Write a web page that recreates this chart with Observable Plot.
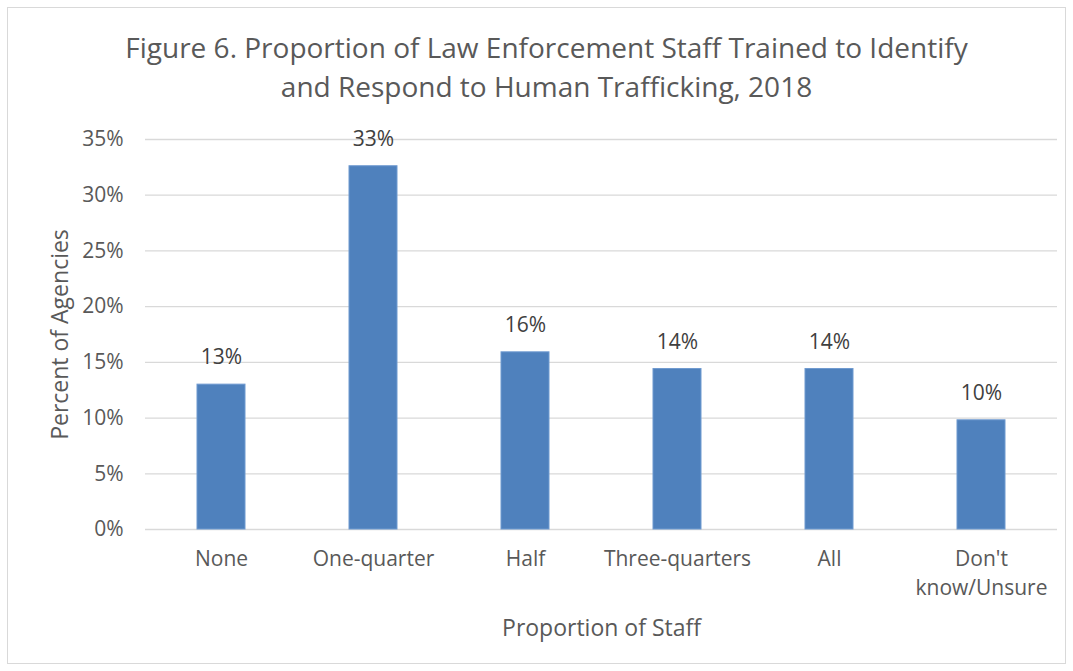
<!DOCTYPE html>
<html>
<head>
<meta charset="utf-8">
<script src="https://cdn.jsdelivr.net/npm/d3@7"></script>
<script src="https://cdn.jsdelivr.net/npm/@observablehq/plot@0.6"></script>
<style>
  html, body { margin: 0; padding: 0; background: #fff; }
  #wrap { position: relative; width: 1073px; height: 671px; overflow: hidden; font-family: "Open Sans", sans-serif; }
  #frame { position: absolute; left: 7px; top: 7px; width: 1057px; height: 655px; border: 1px solid #d9d9d9; }
  #title { position: absolute; left: 0; width: 1093px; top: 28px; text-align: center; font-size: 28px; line-height: 39px; color: #595959; }
  #chart { position: absolute; left: 0; top: 0; }
</style>
</head>
<body>
<div id="wrap">
  <div id="frame"></div>
  <div id="title">Figure 6. Proportion of Law Enforcement Staff Trained to Identify<br>and Respond to Human Trafficking, 2018</div>
  <div id="chart"></div>
</div>
<script>
const categories = ["None", "One-quarter", "Half", "Three-quarters", "All", "Don't know/Unsure"];
const values = [13.0, 32.6, 15.9, 14.4, 14.4, 9.8];
const valueLabels = ["13%", "33%", "16%", "14%", "14%", "10%"];
const yTicks = [0, 5, 10, 15, 20, 25, 30, 35];
const tickLabels = {"Don't know/Unsure": "Don't\nknow/Unsure"};

const data = categories.map((c, i) => ({category: c, value: values[i], label: valueLabels[i]}));

const chart = Plot.plot({
  width: 1073,
  height: 671,
  marginTop: 139,
  marginBottom: 142,
  marginLeft: 145,
  marginRight: 16,
  style: {fontFamily: "Open Sans, sans-serif", fontSize: "21px", color: "#595959", background: "transparent"},
  x: {domain: categories, paddingInner: 0.684, paddingOuter: 0.342},
  y: {domain: [0, 35]},
  marks: [
    Plot.gridY(yTicks, {stroke: "#d9d9d9", strokeOpacity: 1, strokeWidth: 1.3}),
    Plot.axisY({ticks: yTicks, tickSize: 0, tickPadding: 22, tickFormat: d => d + "%", label: null, fontSize: 21, fill: "#595959"}),
    Plot.axisX({tickSize: 0, tickPadding: 16, tickFormat: d => tickLabels[d] || d, label: null, fontSize: 21, lineHeight: 1.38, fill: "#595959"}),
    Plot.barY(data, {x: "category", y: "value", fill: "#4f81bd", stroke: "#6f9ad0", strokeWidth: 1}),
    Plot.text(data, {x: "category", y: "value", text: "label", dy: -27, fontSize: 21, fill: "#404040"}),
    Plot.text(["Proportion of Staff"], {frameAnchor: "bottom", dy: 106, fontSize: 23, fill: "#595959"}),
    Plot.text(["Percent of Agencies"], {frameAnchor: "left", textAnchor: "middle", dx: -85, rotate: -90, fontSize: 23, fill: "#595959"})
  ]
});
document.getElementById("chart").appendChild(chart);
</script>
</body>
</html>
